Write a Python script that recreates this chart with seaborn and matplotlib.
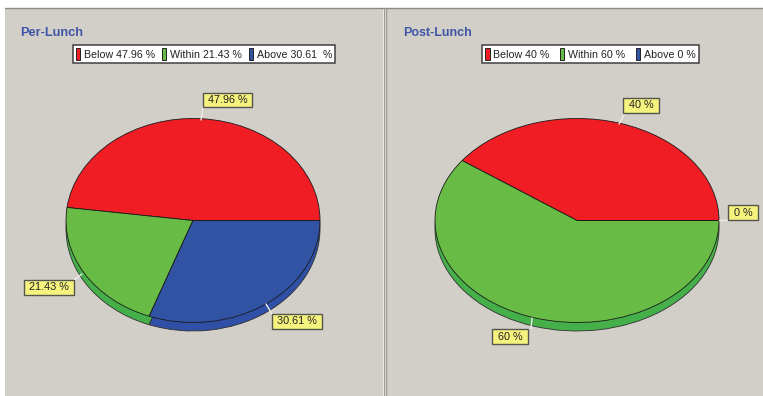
import matplotlib
matplotlib.use("Agg")
import matplotlib.pyplot as plt
from matplotlib.patches import Patch, Rectangle
import seaborn as sns

sns.set_style("white")
plt.rcParams['font.family'] = ['Liberation Sans', 'DejaVu Sans']

W, H = 763, 396

categories = ["Below", "Within", "Above"]
pre_lunch = [47.96, 21.43, 30.61]
post_lunch = [40, 60, 0]
pre_text = ["47.96 %", "21.43 %", "30.61 %"]
post_text = ["40 %", "60 %", "0 %"]
pre_legend = ["Below 47.96 %", "Within 21.43 %", "Above 30.61  %"]
post_legend = ["Below 40 %", "Within 60 %", "Above 0 %"]

top_colors = sns.color_palette(["#F01D24", "#68BB45", "#3153A4"])
side_colors = sns.color_palette(["#C8181E", "#45B04A", "#2F50A6"])
panel = "#D2CFC8"
title_blue = "#3F55A8"

fig = plt.figure(figsize=(W / 100, H / 100), dpi=100, facecolor="white")

# pixel coords for the background
bg = fig.add_axes([0, 0, 1, 1])
bg.set_xlim(0, W)
bg.set_ylim(H, 0)
bg.axis("off")
bg.add_patch(Rectangle((5, 9), 378, H - 9, fc=panel, ec="none"))
bg.add_patch(Rectangle((385.5, 9), W - 385.5, H - 9, fc=panel, ec="none"))
bg.plot([5, W], [8, 8], color="#8A8A86", lw=1)
bg.plot([383.5, 383.5], [8, H], color="#9A9A94", lw=1)
bg.plot([385.5, 385.5], [8, H], color="#9A9A94", lw=1)


def draw_pie(values, cx, cy, rx, ry):
    depth = 8.5
    pad = 1.2
    ax = fig.add_axes([(cx - rx * pad) / W, 1 - (cy + ry * pad) / H,
                       2 * rx * pad / W, 2 * ry * pad / H])
    ax.patch.set_alpha(0)
    # side of the pie first, then the top shifted up over it
    ax.pie(values, colors=side_colors, startangle=0, radius=1, center=(0, -depth / ry),
           wedgeprops={"edgecolor": "#303030", "linewidth": 0.6})
    ax.pie(values, colors=top_colors, startangle=0, radius=1, center=(0, 0),
           wedgeprops={"edgecolor": "#1A1A1A", "linewidth": 0.6})
    ax.set_aspect("auto")
    ax.set_xlim(-pad, pad)
    ax.set_ylim(-pad, pad)
    return ax


def legend(texts, x, y, spacing):
    handles = [Patch(fc=c, ec="#222222", lw=0.7) for c in top_colors]
    leg = fig.legend(handles, texts, ncol=3, loc="center",
                     bbox_to_anchor=(x / W, 1 - y / H), fontsize=7.7,
                     frameon=True, fancybox=False, framealpha=1, facecolor="white",
                     edgecolor="#404040", handlelength=0.4, handleheight=1.25,
                     handletextpad=0.35, columnspacing=spacing, borderpad=0.28,
                     labelcolor="#222222")
    leg.get_frame().set_linewidth(1.1)


draw_pie(pre_lunch, 193, 220.5, 127, 102)
draw_pie(post_lunch, 577, 220.5, 142, 102)

# overlay on top of the pies for leaders and yellow labels
top = fig.add_axes([0, 0, 1, 1])
top.set_xlim(0, W)
top.set_ylim(H, 0)
top.axis("off")
top.patch.set_alpha(0)


def callout(text, x0, y0, x1, y1, lx0, ly0, lx1, ly1):
    top.plot([lx0, lx1], [ly0, ly1], color="#EDEDE8", lw=1)
    top.add_patch(Rectangle((x0, y0), x1 - x0, y1 - y0, fc="#F6F27E", ec="#555550", lw=1, zorder=3))
    top.text((x0 + x1) / 2, (y0 + y1) / 2, text, ha="center", va="center",
             fontsize=7.8, color="#222222", zorder=4)


callout(pre_text[0], 203, 93, 252, 107, 201, 120, 203, 107)
callout(pre_text[1], 24, 280, 74, 295, 82, 274, 74, 280)
callout(pre_text[2], 272, 314, 322, 329, 266, 304, 272, 314)
callout(post_text[0], 623, 98, 659, 113, 619, 124, 625, 113)
callout(post_text[1], 492, 329, 528, 344, 532, 318, 531, 329)
callout(post_text[2], 728, 205, 758, 220, 719, 220, 728, 220)

top.text(20, 32.5, "Per-Lunch", ha="left", va="center", fontsize=9.2,
         fontweight="bold", color=title_blue)
top.text(403, 32.5, "Post-Lunch", ha="left", va="center", fontsize=9.0,
         fontweight="bold", color=title_blue)

legend(pre_legend, 204, 54, 0.68)
legend(post_legend, 590.5, 54, 0.98)

fig.savefig("out.png", dpi=100)
